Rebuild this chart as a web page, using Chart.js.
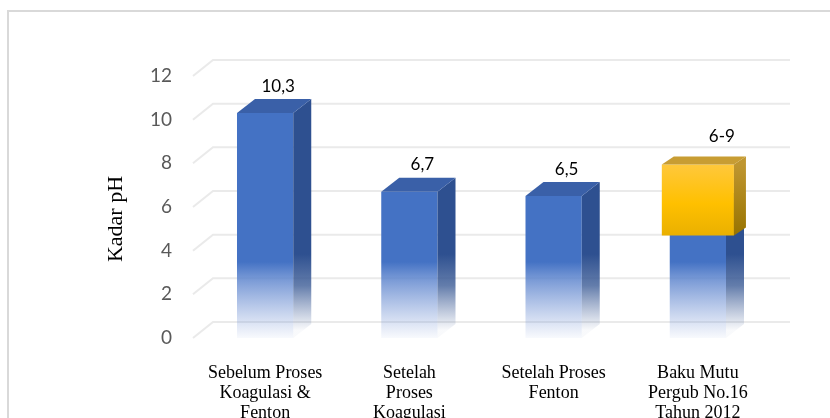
<!DOCTYPE html>
<html>
<head>
<meta charset="utf-8">
<script src="https://cdn.jsdelivr.net/npm/chart.js@4"></script>
<style>
  html, body { margin: 0; padding: 0; background: #fff; overflow: hidden; }
  #wrap { position: relative; width: 830px; height: 418px; }
</style>
</head>
<body>
<div id="wrap"><canvas id="ph" width="830" height="418"></canvas></div>
<script>
const categories = [
  ['Sebelum Proses', 'Koagulasi &', 'Fenton'],
  ['Setelah', 'Proses', 'Koagulasi'],
  ['Setelah Proses', 'Fenton'],
  ['Baku Mutu', 'Pergub No.16', 'Tahun 2012']
];
const phValues = [10.3, 6.7, 6.5, 6];
const bakuMutuRange = [null, null, null, [4.7, 7.95]];
const valueLabels = ['10,3', '6,7', '6,5', '6-9'];
const yTicks = [0, 2, 4, 6, 8, 10, 12];

const BLUE = '#4472C4';

function blueFront(c) {
  const area = c.chart.chartArea;
  if (!area) return BLUE;
  const g = c.chart.ctx.createLinearGradient(0, area.top, 0, area.bottom);
  g.addColorStop(0, 'rgba(68,114,196,1)');
  g.addColorStop(0.71, 'rgba(68,114,196,1)');
  g.addColorStop(0.77, 'rgba(92,132,205,0.85)');
  g.addColorStop(1, 'rgba(120,150,214,0.05)');
  return g;
}

function goldFront(c) {
  const sc = c.chart.scales.y;
  if (!sc || !c.chart.chartArea) return '#FFC000';
  const r = bakuMutuRange[3];
  const g = c.chart.ctx.createLinearGradient(0, sc.getPixelForValue(r[1]), 0, sc.getPixelForValue(r[0]));
  g.addColorStop(0, '#FFC83C');
  g.addColorStop(0.55, '#FFC000');
  g.addColorStop(1, '#EAB000');
  return g;
}

const depth3d = {
  id: 'depth3d',
  beforeDraw(chart) {
    const ctx = chart.ctx;
    ctx.save();
    ctx.fillStyle = '#fff';
    ctx.fillRect(0, 0, chart.width, chart.height);
    ctx.strokeStyle = '#D9D9D9';
    ctx.lineWidth = 2;
    ctx.strokeRect(8, 11, 1000, 1000);
    ctx.restore();
  },
  beforeDatasetsDraw(chart) {
    const ctx = chart.ctx;
    const a = chart.chartArea;
    const y = chart.scales.y;
    ctx.save();
    ctx.strokeStyle = '#EAEAEA';
    ctx.lineWidth = 2;
    yTicks.forEach(v => {
      const py = y.getPixelForValue(v);
      ctx.beginPath();
      ctx.moveTo(a.left, py);
      ctx.lineTo(a.left + 20, py - 16);
      ctx.lineTo(a.right + 20, py - 16);
      ctx.stroke();
    });
    ctx.restore();
  },
  afterDatasetDraw(chart, args) {
    const ctx = chart.ctx;
    const a = chart.chartArea;
    const isGold = args.index === 1;
    const dx = isGold ? 12 : 18;
    const dy = isGold ? -8 : -14;
    const values = chart.data.datasets[args.index].data;
    args.meta.data.forEach((bar, i) => {
      if (values[i] == null) return;
      const p = bar.getProps(['x', 'y', 'base', 'width'], true);
      const l = p.x - p.width / 2, r = p.x + p.width / 2;
      const t = Math.min(p.y, p.base), b = Math.max(p.y, p.base);
      ctx.save();
      // side face
      let sg;
      if (isGold) {
        sg = ctx.createLinearGradient(0, t, 0, b);
        sg.addColorStop(0, '#BF9630');
        sg.addColorStop(1, '#987300');
      } else {
        sg = ctx.createLinearGradient(0, a.top, 0, a.bottom);
        sg.addColorStop(0, 'rgba(46,80,144,1)');
        sg.addColorStop(0.68, 'rgba(46,80,144,1)');
        sg.addColorStop(0.8, 'rgba(60,92,150,0.8)');
        sg.addColorStop(0.97, 'rgba(90,115,165,0.04)');
      }
      ctx.fillStyle = sg;
      ctx.beginPath();
      ctx.moveTo(r, t);
      ctx.lineTo(r + dx, t + dy);
      ctx.lineTo(r + dx, b + dy);
      ctx.lineTo(r, b);
      ctx.closePath();
      ctx.fill();
      // top face
      ctx.fillStyle = isGold ? '#C89D33' : '#3A60A8';
      ctx.beginPath();
      ctx.moveTo(l, t);
      ctx.lineTo(l + dx, t + dy);
      ctx.lineTo(r + dx, t + dy);
      ctx.lineTo(r, t);
      ctx.closePath();
      ctx.fill();
      ctx.restore();
    });
  },
  afterDatasetsDraw(chart) {
    const ctx = chart.ctx;
    const blue = chart.getDatasetMeta(0).data;
    const gold = chart.getDatasetMeta(1).data;
    ctx.save();
    ctx.font = '17px Lato';
    ctx.fillStyle = '#000';
    ctx.textAlign = 'center';
    ctx.textBaseline = 'middle';
    valueLabels.forEach((txt, i) => {
      if (i === 3) {
        const g = gold[i].getProps(['x', 'y'], true);
        ctx.fillText(txt, g.x + 24, g.y - 28);
      } else {
        const b = blue[i].getProps(['x', 'y'], true);
        ctx.fillText(txt, b.x + 13, b.y - 27);
      }
    });
    ctx.restore();
  },
  afterDraw(chart) {
    const ctx = chart.ctx;
    ctx.save();
    ctx.translate(116, 219);
    ctx.rotate(-Math.PI / 2);
    ctx.font = '22px "Liberation Serif"';
    ctx.fillStyle = '#000';
    ctx.textAlign = 'center';
    ctx.textBaseline = 'middle';
    ctx.fillText('Kadar pH', 0, 0);
    ctx.restore();
  }
};

new Chart(document.getElementById('ph'), {
  type: 'bar',
  data: {
    labels: categories,
    datasets: [{
      label: 'pH',
      data: phValues,
      backgroundColor: blueFront,
      borderWidth: 0,
      grouped: false,
      categoryPercentage: 1,
      barPercentage: 0.39,
      order: 1
    }, {
      label: 'Baku Mutu',
      data: bakuMutuRange,
      backgroundColor: goldFront,
      borderWidth: 0,
      grouped: false,
      categoryPercentage: 1,
      barPercentage: 0.5,
      order: 0
    }]
  },
  options: {
    responsive: false,
    animation: false,
    devicePixelRatio: 1,
    layout: { padding: { left: 0, right: 60, top: 76, bottom: 0 } },
    plugins: {
      legend: { display: false },
      tooltip: { enabled: false }
    },
    scales: {
      x: {
        grid: { display: false, drawTicks: false },
        border: { display: false },
        ticks: {
          color: '#000',
          font: { family: '"Liberation Serif"', size: 18, lineHeight: '20px' },
          padding: 25,
          maxRotation: 0,
          autoSkip: false
        },
        afterFit(scale) { scale.height = 80; }
      },
      y: {
        min: 0,
        max: 12,
        grid: { display: false, drawTicks: false },
        border: { display: false },
        ticks: {
          stepSize: 2,
          color: '#595959',
          font: { family: 'Lato', size: 19 },
          padding: 21
        },
        afterFit(scale) { scale.width = 193; }
      }
    }
  },
  plugins: [depth3d]
});
</script>
</body>
</html>
